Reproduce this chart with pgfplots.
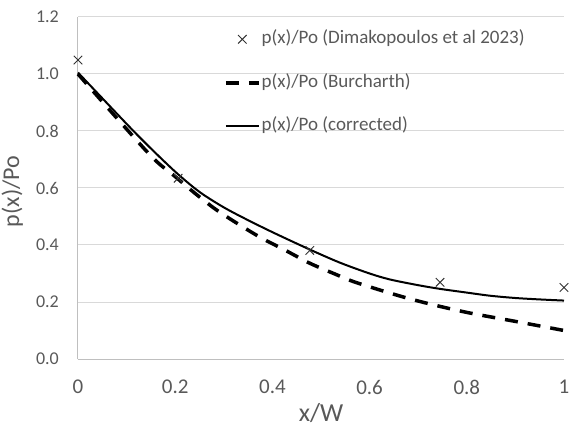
\documentclass[border=0pt]{standalone}
\usepackage{fontspec}
\setmainfont{Carlito}
\usepackage{pgfplots}
\pgfplotsset{compat=1.18}
\definecolor{txt}{HTML}{595959}
\definecolor{gridc}{HTML}{D9D9D9}
\definecolor{axc}{HTML}{BFBFBF}

\begin{document}
\begin{tikzpicture}
\begin{axis}[
  at={(0,0)}, anchor=south west,
  scale only axis, width=486bp, height=342bp,
  xmin=0, xmax=1, ymin=0, ymax=1.2,
  clip=false,
  axis x line=bottom, axis y line=left,
  axis line style={-, draw=axc, line width=1bp},
  xtick={0,0.2,0.4,0.6,0.8,1},
  ytick={0,0.2,0.4,0.6,0.8,1.0,1.2},
  major tick length=0pt,
  ymajorgrids, grid style={draw=gridc, line width=1bp},
  /pgf/number format/assume math mode=true,
  yticklabel style={/pgf/number format/fixed, /pgf/number format/fixed zerofill,
    /pgf/number format/precision=1,
    font=\fontsize{18bp}{20bp}\selectfont, text=txt, anchor=east, inner sep=0pt, xshift=-19bp},
  xticklabel style={font=\fontsize{21bp}{23bp}\selectfont, text=txt, anchor=north, inner sep=0pt, yshift=-21bp},
  xlabel={x/W}, ylabel={p(x)/Po},
  xlabel style={font=\fontsize{26bp}{28bp}\selectfont, text=txt, inner sep=0pt,
    at={(axis description cs:0.5,-0.184)}, anchor=base},
  ylabel style={font=\fontsize{24bp}{26bp}\selectfont, text=txt, inner sep=0pt,
    at={(axis description cs:-0.135,0.49)}, anchor=center},
  legend cell align=left,
  legend image code/.code={\draw[mark repeat=2,mark phase=2,#1] plot coordinates {(0bp,0bp) (16.5bp,0bp) (33bp,0bp)};},
  legend style={at={(axis description cs:0.294,0.969)}, anchor=north west,
    draw=none, fill=none, font=\fontsize{19bp}{21bp}\selectfont, text=txt,
    row sep=24.5bp, nodes={inner sep=0pt, text height=14bp, text depth=5bp},
    /tikz/every odd column/.append style={column sep=1bp}},
]
\addplot[only marks, mark=x, mark size=6bp, mark options={line width=1bp, draw=black!80}]
  coordinates {(0,1.049) (0.206,0.634) (0.477,0.381) (0.745,0.269) (1.0,0.251)};
\addlegendentry{p(x)/Po (Dimakopoulos et al 2023)}
\addplot[black, line width=3.5bp, dash pattern=on 13bp off 10bp, smooth]
  coordinates {(0,1.0) (0.08,0.845) (0.155,0.704) (0.2,0.64) (0.241,0.581) (0.285,0.523)
  (0.333,0.47) (0.378,0.424) (0.426,0.382) (0.477,0.336) (0.529,0.298) (0.573,0.268)
  (0.683,0.211) (0.793,0.166) (0.903,0.131) (1.0,0.10)};
\addlegendentry{p(x)/Po (Burcharth)}
\addplot[black, line width=2bp, smooth]
  coordinates {(0,1.005) (0.05,0.915) (0.113,0.802) (0.16,0.722) (0.206,0.648) (0.251,0.585)
  (0.3,0.532) (0.35,0.487) (0.405,0.441) (0.477,0.384) (0.539,0.338) (0.6,0.300)
  (0.642,0.279) (0.7,0.259) (0.745,0.246) (0.8,0.233) (0.848,0.222) (0.9,0.214)
  (0.95,0.209) (1.0,0.205)};
\addlegendentry{p(x)/Po (corrected)}
\end{axis}
\pgfresetboundingbox
\path ([xshift=-78bp,yshift=-71bp]current axis.south west) rectangle ([xshift=8bp,yshift=17bp]current axis.north east);
\end{tikzpicture}
\end{document}
